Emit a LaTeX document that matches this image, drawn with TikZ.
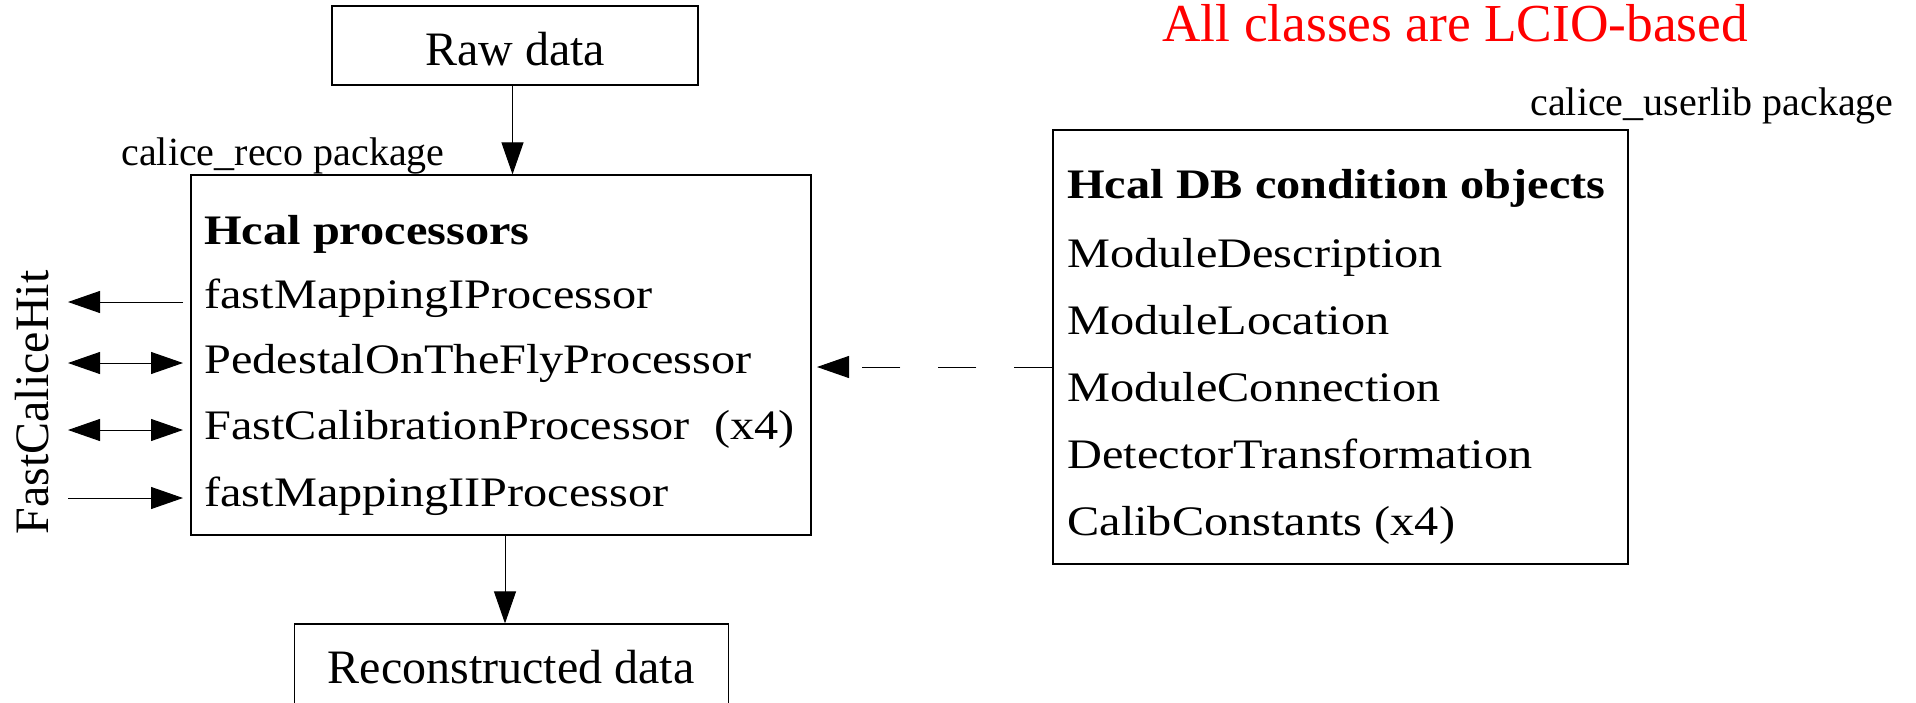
\documentclass[tikz,border=0pt]{standalone}
\usepackage{fontspec}
\setmainfont{Liberation Serif}
\newfontfamily\stretchfont[FakeStretch=1.15]{Liberation Serif}
\usetikzlibrary{arrows.meta,calc}
\begin{document}
\begin{tikzpicture}[x=0.5pt,y=-0.5pt,
  box/.style={draw, line width=0.6pt, inner sep=0pt, rectangle},
  txt/.style={inner sep=0pt, anchor=base west, font=\stretchfont\fontsize{21}{25}\selectfont},
  bigtxt/.style={inner sep=0pt, anchor=base, font=\fontsize{24}{28}\selectfont},
  pkg/.style={inner sep=0pt, anchor=base west, font=\fontsize{20}{24}\selectfont},
  note/.style={inner sep=0pt, anchor=base west, text=red, font=\fontsize{26.7}{30}\selectfont},
  conn/.style={line width=0.5pt, -{Triangle[length=16pt,width=11pt]}},
  dconn/.style={line width=0.5pt, {Triangle[length=16pt,width=11pt]}-{Triangle[length=16pt,width=11pt]}},
]
\useasboundingbox (0,0) rectangle (1916,702);

% boxes
\node[box, minimum width=183pt, minimum height=39.5pt] (raw) at (515,45.5) {};
\node[box, minimum width=310pt, minimum height=180pt] (main) at (501,355) {};
\node[box, minimum width=287.5pt, minimum height=217pt] (db) at (1340.5,347) {};
\node[box, minimum width=217pt, minimum height=68pt] (rec) at (511.3,692) {};

% box titles
\node[bigtxt] (rawt) at (515,65) {Raw data};
\node[bigtxt] (rect) at (511,683) {Reconstructed data};

% package labels
\node[pkg] (recopkg) at (121,165) {calice\_reco package};
\node[pkg] (userpkg) at (1530,115) {calice\_userlib package};
\node[note] (lcio) at (1162,41) {All classes are LCIO-based};

% main box contents
\node[txt] (mh) at (204,244) {\bfseries Hcal processors};
\node[txt] (m1) at (204,308) {fastMappingIProcessor};
\node[txt] (m2) at (204,373) {PedestalOnTheFlyProcessor};
\node[txt] (m3) at (204,439) {FastCalibrationProcessor};
\node[txt] (m3x) at (714,439) {(x4)};
\node[txt] (m4) at (204,506) {fastMappingIIProcessor};

% db box contents
\node[txt] (dh) at (1067,198) {\bfseries Hcal DB condition objects};
\node[txt] (d1) at (1067,267) {ModuleDescription};
\node[txt] (d2) at (1067,334) {ModuleLocation};
\node[txt] (d3) at (1067,401) {ModuleConnection};
\node[txt] (d4) at (1067,468) {DetectorTransformation};
\node[txt] (d5) at (1067,535) {CalibConstants (x4)};

% rotated label
\node[bigtxt, rotate=90] (fch) at (48,402.5) {FastCaliceHit};

% vertical connectors
\coordinate (a1) at (512.5,0);
\coordinate (a2) at (505,0);
\draw[conn] (raw.south -| a1) -- (main.north -| a1);
\draw[conn] (main.south -| a2) -- (rec.north -| a2);

% left connectors
\foreach \n/\y in {1/302,2/363,3/430,4/498} {
  \coordinate (L\n) at (68,\y);
  \coordinate (R\n) at (183,\y);
}
\draw[conn] (R1) -- (L1);
\draw[dconn] (L2) -- (R2);
\draw[dconn] (L3) -- (R3);
\draw[conn] (L4) -- (R4);

% dashed connector
\coordinate (dend) at (817,367);
\draw[conn, dash pattern=on 19pt off 19pt] (db.west |- dend) -- (dend);
\end{tikzpicture}
\end{document}
